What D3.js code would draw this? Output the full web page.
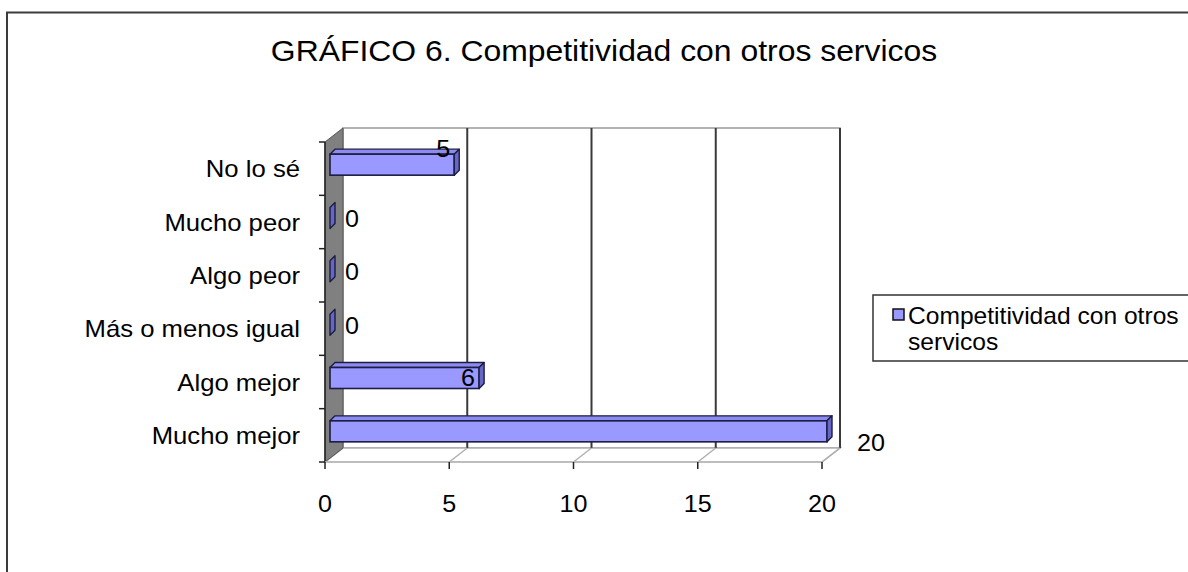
<!DOCTYPE html>
<html>
<head>
<meta charset="utf-8">
<script src="https://cdn.jsdelivr.net/npm/d3@7"></script>
<style>
  html, body { margin: 0; padding: 0; background: #fff; }
  svg { display: block; font-family: "Liberation Sans", Arial, sans-serif; }
</style>
</head>
<body>
<svg id="chart" width="1188" height="572"></svg>
<script>
// Chart data
const title = 'GRÁFICO 6. Competitividad con otros servicos';
const seriesName = ['Competitividad con otros', 'servicos'];
const categories = ['No lo sé', 'Mucho peor', 'Algo peor', 'Más o menos igual', 'Algo mejor', 'Mucho mejor'];
const values = [5, 0, 0, 0, 6, 20];
const xTicks = [0, 5, 10, 15, 20];

const W = 1188, H = 572;
const SX = 1.07; // the original is stretched a little horizontally
const svg = d3.select('#chart');

const colors = {
  front: '#9999ff',
  top: '#8c8cf0',
  side: '#6666c4',
  edge: '#1c1c44',
  wall: '#808080',
  grid: '#3a3a3a',
  floor: '#b0b0b0',
  text: '#000',
};

// outer frame (right/bottom run off the picture)
svg.append('rect')
  .attr('x', 7).attr('y', 12.5).attr('width', W + 20).attr('height', H + 20)
  .attr('fill', 'none').attr('stroke', '#3c3c3c').attr('stroke-width', 2);

const stretchedText = (sel, x, y) => sel.attr('transform', `translate(${x},${y}) scale(${SX},1)`);

// title
stretchedText(svg.append('text'), 604, 61)
  .attr('text-anchor', 'middle')
  .attr('font-size', 29.8)
  .attr('fill', colors.text)
  .text(title);

// scales (front plane)
const x = d3.scaleLinear().domain([0, 20]).range([325, 822]);
const y = d3.scaleBand().domain(categories).range([142, 462]);
const depth = { dx: 18, dy: -14 };
const yTop = 142, yBottom = 462;

const g = svg.append('g');

// back wall
g.append('rect')
  .attr('x', x(0) + depth.dx).attr('y', yTop + depth.dy)
  .attr('width', x(20) - x(0)).attr('height', yBottom - yTop)
  .attr('fill', '#fff').attr('stroke', '#9a9a9a').attr('stroke-width', 1.5);

// floor
g.append('path')
  .attr('d', `M${x(0)},${yBottom} L${x(0) + depth.dx},${yBottom + depth.dy} L${x(20) + depth.dx},${yBottom + depth.dy} L${x(20)},${yBottom} Z`)
  .attr('fill', '#fff').attr('stroke', colors.floor).attr('stroke-width', 1.5);

// gridlines on back wall + floor diagonals
xTicks.forEach((t) => {
  if (t > 0) {
    g.append('line')
      .attr('x1', x(t) + depth.dx).attr('x2', x(t) + depth.dx)
      .attr('y1', yTop + depth.dy).attr('y2', yBottom + depth.dy)
      .attr('stroke', colors.grid).attr('stroke-width', 2);
  }
  g.append('line')
    .attr('x1', x(t)).attr('y1', yBottom)
    .attr('x2', x(t) + depth.dx).attr('y2', yBottom + depth.dy)
    .attr('stroke', colors.floor).attr('stroke-width', 1.5);
});

// left side wall (grey)
g.append('path')
  .attr('d', `M${x(0)},${yTop} L${x(0) + depth.dx},${yTop + depth.dy} L${x(0) + depth.dx},${yBottom + depth.dy} L${x(0)},${yBottom} Z`)
  .attr('fill', colors.wall).attr('stroke', '#555').attr('stroke-width', 1);

// y axis + ticks
g.append('line')
  .attr('x1', x(0)).attr('x2', x(0)).attr('y1', yTop).attr('y2', yBottom)
  .attr('stroke', '#222').attr('stroke-width', 1.5);
[...categories.map((c) => y(c)), yBottom].forEach((ty) => {
  g.append('line')
    .attr('x1', x(0) - 6).attr('x2', x(0)).attr('y1', ty).attr('y2', ty)
    .attr('stroke', '#222').attr('stroke-width', 1.5);
});

// x axis + ticks
g.append('line')
  .attr('x1', x(0)).attr('x2', x(20)).attr('y1', yBottom).attr('y2', yBottom)
  .attr('stroke', '#bbb').attr('stroke-width', 1.5);
xTicks.forEach((t) => {
  g.append('line')
    .attr('x1', x(t)).attr('x2', x(t)).attr('y1', yBottom).attr('y2', yBottom + 7)
    .attr('stroke', '#222').attr('stroke-width', 1.5);
  stretchedText(g.append('text'), x(t), 512)
    .attr('text-anchor', 'middle')
    .attr('font-size', 23.5)
    .attr('fill', colors.text)
    .text(t);
});

// category labels
categories.forEach((c) => {
  stretchedText(g.append('text'), 300, y(c) + y.bandwidth() / 2 + 8.5)
    .attr('text-anchor', 'end')
    .attr('font-size', 24)
    .attr('fill', colors.text)
    .text(c);
});

// bars (3D boxes)
const barOff = { dx: 5, dy: -4 };
const barDepth = 5;
const barH = 21;
const maxVal = d3.max(values);

categories.forEach((c, i) => {
  const v = values[i];
  const x0 = x(0) + barOff.dx;
  const x1 = x(v) + barOff.dx;
  const y0 = y(c) + y.bandwidth() / 2 + barOff.dy - barH / 2;
  const y1 = y0 + barH;

  if (v > 0) {
    g.append('path')
      .attr('d', `M${x0},${y0} L${x0 + barDepth},${y0 - barDepth} L${x1 + barDepth},${y0 - barDepth} L${x1},${y0} Z`)
      .attr('fill', colors.top).attr('stroke', colors.edge).attr('stroke-width', 1.4).attr('stroke-linejoin', 'round');
    g.append('rect')
      .attr('x', x0).attr('y', y0).attr('width', x1 - x0).attr('height', barH)
      .attr('fill', colors.front).attr('stroke', colors.edge).attr('stroke-width', 1.6);
  }
  g.append('path')
    .attr('d', `M${x1},${y0} L${x1 + barDepth},${y0 - barDepth} L${x1 + barDepth},${y1 - barDepth} L${x1},${y1} Z`)
    .attr('fill', colors.side).attr('stroke', colors.edge).attr('stroke-width', 1.4).attr('stroke-linejoin', 'round');

  // data label, placed the way the original puts it
  const label = stretchedText(g.append('text'), 0, 0)
    .attr('font-size', 23.5)
    .attr('fill', colors.text)
    .text(v);
  const cy = y(c) + y.bandwidth() / 2;
  if (v === 0) {
    stretchedText(label, x1 + 15, cy + 5).attr('text-anchor', 'start');
  } else if (v === maxVal) {
    stretchedText(label, x(v) + 35, cy + 16).attr('text-anchor', 'start');
  } else {
    stretchedText(label, x1 - 4, cy + (i === 0 ? -12 : 4)).attr('text-anchor', 'end');
  }
});

// legend
const legend = svg.append('g');
legend.append('rect')
  .attr('x', 873).attr('y', 295).attr('width', 340).attr('height', 66)
  .attr('fill', '#fff').attr('stroke', '#333').attr('stroke-width', 1.5);
legend.append('rect')
  .attr('x', 893).attr('y', 309).attr('width', 11).attr('height', 11)
  .attr('fill', colors.front).attr('stroke', '#111').attr('stroke-width', 1.5);
seriesName.forEach((line, i) => {
  stretchedText(legend.append('text'), 908, 324 + i * 26)
    .attr('font-size', 23)
    .attr('fill', colors.text)
    .text(line);
});
</script>
</body>
</html>
